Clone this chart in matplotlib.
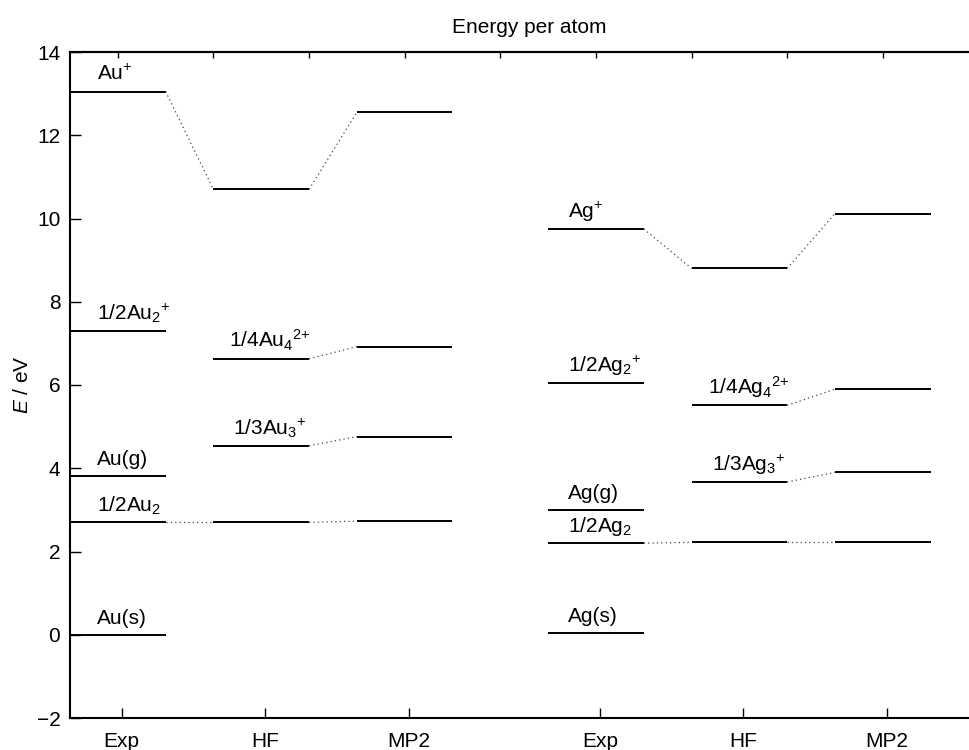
import matplotlib
matplotlib.use("Agg")
import matplotlib.pyplot as plt

plt.rcParams['font.family'] = ['Liberation Sans', 'DejaVu Sans']
plt.rcParams['mathtext.fontset'] = 'custom'
plt.rcParams['mathtext.rm'] = 'Liberation Sans'
plt.rcParams['mathtext.it'] = 'Liberation Sans:italic'
plt.rcParams['mathtext.bf'] = 'Liberation Sans:bold'

# ---------------- data ----------------
methods = ["Exp", "HF", "MP2"]

# Gold (eV per atom); None = no level
au_labels = [r"Au$^{+}$", r"1/4Au$_4$$^{2{+}}$", r"1/2Au$_2$$^{+}$", r"1/3Au$_3$$^{+}$",
             "Au(g)", r"1/2Au$_2$", "Au(s)"]
au_exp = [13.05, None, 7.29, None, 3.81, 2.70, 0.0]
au_hf  = [10.70, 6.63, None, 4.54, None, 2.70, None]
au_mp2 = [12.55, 6.92, None, 4.76, None, 2.73, None]

# Silver
ag_labels = [r"Ag$^{+}$", r"1/4Ag$_4$$^{2{+}}$", r"1/2Ag$_2$$^{+}$", r"1/3Ag$_3$$^{+}$",
             "Ag(g)", r"1/2Ag$_2$", "Ag(s)"]
ag_exp = [9.75, None, 6.04, None, 3.00, 2.20, 0.05]
ag_hf  = [8.80, 5.51, None, 3.67, None, 2.22, None]
ag_mp2 = [10.12, 5.90, None, 3.90, None, 2.22, None]

yticks = [-2, 0, 2, 4, 6, 8, 10, 12, 14]

# ---------------- layout ----------------
FS = 15
W, H = 969, 750
fig = plt.figure(figsize=(W / 100, H / 100), dpi=100)
ax = fig.add_axes([70 / W, 1 - 718 / H, 918 / W, 666 / H])
ax.set_xlim(0, 19.2)
ax.set_ylim(-2, 14)

bar_w = 2.0
group_starts = [[0, 3, 6], [10, 13, 16]]
lw_level = 1.4
dot_kw = dict(color="#444444", lw=0.9, linestyle=(0, (1, 2.5)))


def draw_group(starts, labels, exp, hf, mp2, exp_lab_dx, hf_lab_dx):
    cols = [exp, hf, mp2]
    for ci, (s, col) in enumerate(zip(starts, cols)):
        for li, v in enumerate(col):
            if v is None:
                continue
            ax.plot([s, s + bar_w], [v, v], color="black", lw=lw_level,
                    solid_capstyle="butt")
    # dotted connectors between neighbouring methods
    for li in range(len(labels)):
        for ci in range(2):
            a, b = cols[ci][li], cols[ci + 1][li]
            if a is None or b is None:
                continue
            x0 = starts[ci] + bar_w
            x1 = starts[ci + 1]
            ax.plot([x0, x1], [a, b], **dot_kw)
    # labels: on Exp column if present, otherwise HF column
    for li, lab in enumerate(labels):
        if exp[li] is not None:
            ax.annotate(lab, (starts[0] + exp_lab_dx, exp[li]), xytext=(0, 8),
                        textcoords="offset points", ha="left", va="baseline",
                        fontsize=FS)
        elif hf[li] is not None:
            ax.annotate(lab, (starts[1] + bar_w / 2 + hf_lab_dx, hf[li]),
                        xytext=(0, 8), textcoords="offset points",
                        ha="center", va="baseline", fontsize=FS)


draw_group(group_starts[0], au_labels, au_exp, au_hf, au_mp2, 0.57, 0.18)
draw_group(group_starts[1], ag_labels, ag_exp, ag_hf, ag_mp2, 0.42, 0.2)

# ticks
centers = [s + bar_w / 2 + 0.08 for g in group_starts for s in g]
ax.set_xticks(centers)
ax.set_xticklabels(methods * 2, fontsize=FS)
ax.set_yticks(yticks)
ax.set_yticklabels([str(t).replace("-", "\u2212") for t in yticks], fontsize=FS)
ax.tick_params(axis="x", direction="in", length=7, width=1.0, pad=10, top=False)
ax.tick_params(axis="y", direction="in", length=8, width=1.0, pad=7, right=False)

top = ax.secondary_xaxis("top")
top.set_xticks(list(range(1, 20, 2)))
top.set_xticklabels([])
top.tick_params(direction="in", length=4, width=1.0)

for sp in ax.spines.values():
    sp.set_linewidth(1.5)
top.spines["top"].set_linewidth(1.5)

ax.set_ylabel(r"$\it{E}$ / eV", fontsize=FS, labelpad=3)
ax.set_title("Energy per atom", fontsize=FS, pad=14)

fig.savefig("out.png", dpi=100)
